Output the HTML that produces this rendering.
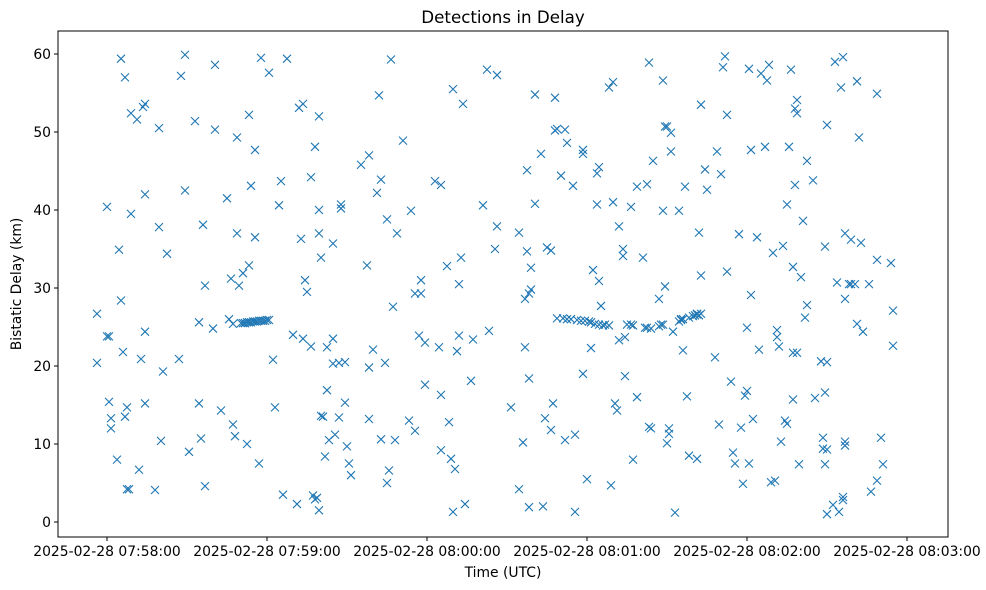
<!DOCTYPE html>
<html><head><meta charset="utf-8"><style>
body{margin:0;background:#fff;}
svg{display:block;font-family:"DejaVu Sans","Liberation Sans",sans-serif;}
</style></head><body>
<svg id="chart" width="986" height="590"></svg>
<script>
// seconds after 2025-02-28 07:58:00 UTC
const times = [
-3.75,-3.75,0,0,0.75,0.75,1.5,1.5,3.75,4.5,5.25,5.25,6,6.75,6.75,7.5,7.5,8.25,9,9,
11.25,12,12.75,13.5,14.25,14.25,14.25,14.25,18,19.5,19.5,20.25,21,22.5,27,27.75,29.25,29.25,30.75,33,
34.5,34.5,35.25,36,36.75,36.75,39.75,40.5,40.5,42.75,45,45.75,46.5,47.25,47.25,48,48.75,48.75,49.5,51,
51.75,52.5,53.25,53.25,54,55.5,55.5,57,57.75,60.75,62.25,63,64.5,65.25,66,67.5,69.75,71.25,72,72.75,
73.5,73.5,74.25,75,76.5,76.5,77.25,78,78,78.75,79.5,79.5,79.5,79.5,80.25,80.25,81,81.75,82.5,82.5,
83.25,84.75,84.75,84.75,85.5,87,87,87.75,87.75,89.25,89.25,90,90.75,91.5,95.25,97.5,98.25,98.25,98.25,99.75,
101.25,102,102.75,102.75,104.25,105,105,105.75,106.5,107.25,108,108.75,111,113.25,114,115.5,115.5,117,117.75,117.75,
119.25,119.25,123,124.5,125.25,125.25,125.25,127.5,128.25,129,129.75,129.75,130.5,131.25,132,132,132.75,133.5,134.25,136.5,
137.25,141,142.5,143.25,145.5,146.25,146.25,151.5,154.5,154.5,156,156.75,156.75,157.5,157.5,158.25,158.25,158.25,159,159,
160.5,160.5,162.75,163.5,164.25,165,166.5,166.5,167.25,168,168,168.75,170.25,171.75,171.75,172.5,174.75,175.5,175.5,178.5,
178.5,178.5,180,181.5,182.25,183.75,183.75,184.5,184.5,185.25,188.25,189,189.75,189.75,190.5,191.25,192,192,193.5,193.5,
194.25,194.25,196.5,197.25,198.75,198.75,201,202.5,203.25,203.25,204,204.75,207,208.5,208.5,209.25,209.25,210,210,210.75,
210.75,211.5,211.5,212.25,213,214.5,215.25,216,216.75,217.5,218.25,221.25,221.25,222,222.75,222.75,224.25,225,228,228.75,
229.5,230.25,231,231.75,232.5,232.5,234,234.75,235.5,237,237.75,238.5,239.25,240,240,240.75,240.75,241.5,241.5,242.25,
243.75,244.5,245.25,246.75,247.5,248.25,249,249.75,250.5,251.25,251.25,252,252.75,253.5,254.25,255,255,255.75,256.5,257.25,
257.25,257.25,258,258,258.75,258.75,258.75,259.5,260.25,261,261.75,262.5,262.5,264.75,265.5,267.75,268.5,268.5,269.25,269.25,
269.25,270,270,270,270,272.25,273,273.75,274.5,275.25,276,276,276,276.75,276.75,276.75,276.75,278.25,279,279,
280.5,281.25,281.25,282,282.75,283.5,285.75,286.5,288.75,288.75,288.75,290.25,291,294,294.75,294.75,
50.25,51,51.75,52.5,53.25,54,54.75,55.5,56.25,57,57.75,58.5,59.25,60,60.75,
168.75,171,172.5,174,176.25,177.75,179.25,180.75,181.5,183,184.5,186,186.75,188.25,195,196.5,197.25,201.75,202.5,204,
207,207.75,208.5,214.5,215.25,216,218.25,219.75,220.5,221.25,222,222.75
];
const delays = [
26.7,20.4,40.4,23.8,23.8,15.4,13.3,12,8,34.9,59.4,28.4,21.8,57,13.5,4.2,14.7,4.2,52.4,39.5,
51.6,6.7,20.9,53.2,53.6,42,24.4,15.2,4.1,37.8,50.5,10.4,19.3,34.4,20.9,57.2,59.9,42.5,9,51.4,
25.6,15.2,10.7,38.1,30.3,4.6,24.8,50.3,58.6,14.3,41.5,26,31.2,25.4,12.5,11,49.3,37,30.3,31.9,
25.5,10,32.9,52.2,43.1,36.5,47.7,7.5,59.5,57.6,20.8,14.7,40.6,43.7,3.5,59.4,24,2.3,53.1,36.3,
53.6,23.5,31,29.5,44.2,22.5,3.4,48.1,2.9,3.1,52,40,37,1.5,13.6,33.9,13.5,8.4,16.9,22.4,
10.5,20.3,23.5,35.7,11.2,13.4,20.4,40.2,40.7,20.5,15.3,9.7,7.5,6,45.8,32.9,19.8,13.2,47,22.1,
42.2,54.7,43.9,10.6,20.4,38.8,5,6.6,59.3,27.6,10.5,37,48.9,13,39.9,11.7,29.3,23.9,29.3,31,
17.6,23,43.7,22.4,43.2,16.3,9.2,32.8,12.8,8.1,55.5,1.3,6.8,21.9,30.5,23.9,33.9,53.6,2.3,18.1,
23.4,40.6,58,24.5,35,57.3,37.9,14.7,4.2,37.1,10.2,28.6,22.4,45.1,34.7,18.4,29.3,1.9,32.6,29.8,
54.8,40.8,47.2,2,13.3,35.2,34.8,11.8,15.2,50.2,54.4,50.4,44.4,50.3,10.5,48.6,43.1,11.2,1.3,47.7,
47.2,19,5.5,22.3,32.3,40.7,44.7,45.5,30.9,27.7,55.7,4.7,56.4,41,15.2,14.3,23.3,37.9,34.1,35,
23.7,18.7,40.4,8,16,43,33.9,43.3,58.9,12.2,12,46.3,28.6,56.6,39.9,30.2,50.7,50.7,10.1,11.3,
12,49.9,47.5,24.4,1.2,39.9,26,22,43,16.1,8.5,26.7,8.1,37.1,31.6,53.5,45.2,42.6,21.1,47.5,
12.5,44.6,58.3,59.7,52.2,32.1,18,8.9,7.5,36.9,12.1,4.9,16.2,24.9,16.8,58.1,7.5,29.1,47.7,13.2,
36.5,22.1,57.5,48.1,56.6,58.6,5.1,34.5,5.3,24.6,23.7,22.5,10.3,35.4,13,12.6,40.7,48.1,58,15.7,
32.7,21.7,43.2,53,52.4,21.7,54.1,7.4,31.4,38.6,26.2,27.8,46.3,43.8,15.9,20.6,9.4,10.8,7.4,16.6,
35.3,9.3,20.5,1,50.9,2.2,59,30.7,1.3,55.7,59.6,2.8,3.2,9.8,10.3,37,28.6,30.5,30.5,36.2,
30.5,25.4,56.5,49.3,35.8,24.4,30.5,3.9,54.9,33.6,5.3,10.8,7.4,33.2,27.1,22.6,
25.5,25.5,25.5,25.6,25.6,25.6,25.7,25.7,25.7,25.8,25.8,25.8,25.8,25.9,25.9,
26.1,26.1,26,26,25.9,25.8,25.8,25.7,25.6,25.4,25.3,25.2,25.3,25.2,25.3,25.3,25.2,24.9,24.9,24.8,
25.1,25.3,25.3,25.7,25.9,26,26.2,26.4,26.5,26.6,26.5,26.7
];
const yTicks = [0,10,20,30,40,50,60];
const xTickSecs = [0,60,120,180,240,300];
const xTickLabels = ["2025-02-28 07:58:00","2025-02-28 07:59:00","2025-02-28 08:00:00","2025-02-28 08:01:00","2025-02-28 08:02:00","2025-02-28 08:03:00"];

const NS="http://www.w3.org/2000/svg";
const svg=document.getElementById('chart');
const L=58,R=948,T=31,B=537;
const xs=s=>107+s*(160/60);
const ys=v=>522-v*7.8;
function mk(tag,attrs,parent){const e=document.createElementNS(NS,tag);for(const k in attrs)e.setAttribute(k,attrs[k]);(parent||svg).appendChild(e);return e;}

const title=mk('text',{x:503,y:23,'text-anchor':'middle','font-size':16.7});


title.textContent='Detections in Delay';

const frame=mk('rect',{x:L,y:T,width:R-L,height:B-T,fill:'none',stroke:'#000','stroke-width':1});



yTicks.forEach(v=>{
  const y=ys(v);
  mk('line',{x1:L-4,x2:L,y1:y,y2:y,stroke:'#000'});
  const t=mk('text',{x:L-7,y:y+5,'text-anchor':'end','font-size':13.9});
  
  
  t.textContent=v;
});
xTickSecs.forEach((s,i)=>{
  const x=xs(s);
  mk('line',{x1:x,x2:x,y1:B,y2:B+4,stroke:'#000'});
  const t=mk('text',{x:x,y:B+19,'text-anchor':'middle','font-size':13.9});
  
  
  t.textContent=xTickLabels[i];
});
const xl=mk('text',{x:503,y:577,'text-anchor':'middle','font-size':13.9});


xl.textContent='Time (UTC)';
const yl=mk('text',{x:0,y:0,'text-anchor':'middle','font-size':13.9,transform:'translate(21,284) rotate(-90)'});


yl.textContent='Bistatic Delay (km)';

const g=mk('g',{stroke:'#1f77b4','stroke-width':1.1,fill:'none'});


const r=4;
for(let i=0;i<times.length&&i<delays.length;i++){
  const x=xs(times[i]),y=ys(delays[i]);
  const p=mk('path',{d:`M${x-r},${y-r}L${x+r},${y+r}M${x-r},${y+r}L${x+r},${y-r}`},g);
  
  
}
</script>
</body></html>
